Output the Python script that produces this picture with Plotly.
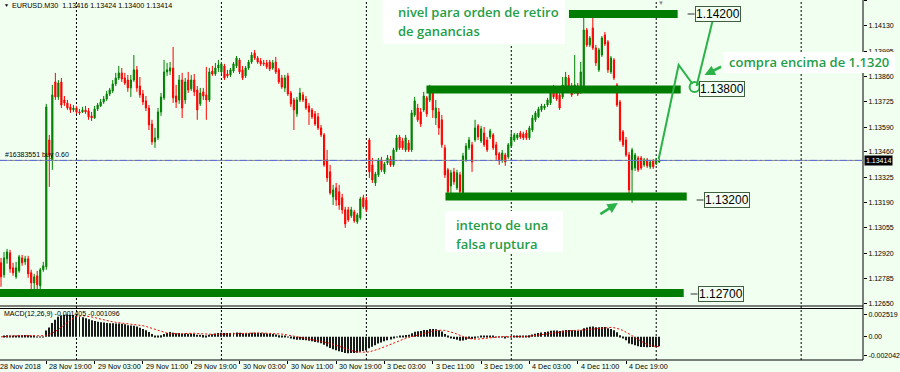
import plotly.graph_objects as go
import pandas as pd

# ---------------- data (EURUSD M30) ----------------
opens = [
    1.12869, 1.12805, 1.12890, 1.12922, 1.12842, 1.12794, 1.12826, 1.12895, 1.12874, 1.12890,
    1.12816, 1.12762, 1.12800, 1.12746, 1.12832, 1.12848, 1.13523, 1.13417, 1.13832, 1.13752,
    1.13832, 1.13736, 1.13720, 1.13699, 1.13683, 1.13693, 1.13672, 1.13672, 1.13683, 1.13677,
    1.13651, 1.13640, 1.13688, 1.13704, 1.13725, 1.13741, 1.13768, 1.13784, 1.13821, 1.13853,
    1.13880, 1.13853, 1.13842, 1.13800, 1.13842, 1.13896, 1.13810, 1.13768, 1.13731, 1.13693,
    1.13608, 1.13513, 1.13534, 1.13672, 1.13747, 1.13885, 1.13890, 1.13906, 1.13757, 1.13736,
    1.13842, 1.13736, 1.13842, 1.13795, 1.13842, 1.13789, 1.13715, 1.13779, 1.13763, 1.13736,
    1.13890, 1.13874, 1.13906, 1.13885, 1.13917, 1.13874, 1.13869, 1.13890, 1.13917, 1.13949,
    1.13896, 1.13864, 1.13906, 1.13938, 1.13986, 1.13959, 1.13943, 1.13933, 1.13933, 1.13938,
    1.13906, 1.13938, 1.13896, 1.13853, 1.13800, 1.13864, 1.13773, 1.13736, 1.13662, 1.13736,
    1.13763, 1.13741, 1.13704, 1.13683, 1.13662, 1.13646, 1.13587, 1.13550, 1.13417, 1.13353,
    1.13220, 1.13268, 1.13247, 1.13215, 1.13151, 1.13151, 1.13119, 1.13140, 1.13087, 1.13108,
    1.13215, 1.13204, 1.13523, 1.13390, 1.13294, 1.13337, 1.13417, 1.13353, 1.13401, 1.13422,
    1.13390, 1.13470, 1.13539, 1.13518, 1.13470, 1.13507, 1.13470, 1.13656, 1.13693, 1.13672,
    1.13683, 1.13747, 1.13736, 1.13789, 1.13640, 1.13672, 1.13630, 1.13481, 1.13364, 1.13278,
    1.13353, 1.13268, 1.13337, 1.13241, 1.13417, 1.13481, 1.13497, 1.13523, 1.13598, 1.13518,
    1.13560, 1.13523, 1.13539, 1.13550, 1.13497, 1.13449, 1.13417, 1.13443, 1.13433, 1.13491,
    1.13523, 1.13534, 1.13560, 1.13555, 1.13560, 1.13534, 1.13576, 1.13630, 1.13646, 1.13683,
    1.13693, 1.13709, 1.13720, 1.13800, 1.13773, 1.13763, 1.13752, 1.13810, 1.13853, 1.13810,
    1.13779, 1.13810, 1.13779, 1.13789, 1.14108, 1.14029, 1.14119, 1.14013, 1.13896, 1.13975,
    1.14082, 1.14045, 1.13885, 1.13949, 1.13816, 1.13725, 1.13566, 1.13523, 1.13443, 1.13364,
    1.13374, 1.13427, 1.13427, 1.13390, 1.13417, 1.13380, 1.13411, 1.13396, 1.13406,
]
highs = [
    1.12895, 1.12927, 1.12943, 1.12938, 1.12869, 1.12874, 1.12911, 1.12911, 1.12906, 1.12906,
    1.12832, 1.12810, 1.12826, 1.12842, 1.12874, 1.13715, 1.13550, 1.13816, 1.13880, 1.13842,
    1.13853, 1.13757, 1.13736, 1.13715, 1.13709, 1.13704, 1.13688, 1.13699, 1.13704, 1.13693,
    1.13672, 1.13704, 1.13720, 1.13741, 1.13757, 1.13784, 1.13800, 1.13842, 1.13880, 1.13917,
    1.13906, 1.13880, 1.13869, 1.13869, 1.13975, 1.13917, 1.13858, 1.13789, 1.13757, 1.13709,
    1.13630, 1.13587, 1.13693, 1.13773, 1.13949, 1.13933, 1.13938, 1.14018, 1.13816, 1.13869,
    1.13880, 1.13853, 1.13885, 1.13869, 1.13874, 1.13810, 1.13800, 1.13800, 1.13912, 1.13906,
    1.13917, 1.13933, 1.13949, 1.13938, 1.13928, 1.13896, 1.13906, 1.13938, 1.13970, 1.13959,
    1.13917, 1.13917, 1.13949, 1.13991, 1.14002, 1.13970, 1.13959, 1.13949, 1.13949, 1.13949,
    1.13949, 1.13965, 1.13906, 1.13869, 1.13869, 1.13880, 1.13784, 1.13747, 1.13752, 1.13800,
    1.13779, 1.13757, 1.13720, 1.13693, 1.13677, 1.13667, 1.13603, 1.13560, 1.13470, 1.13390,
    1.13284, 1.13294, 1.13284, 1.13236, 1.13167, 1.13167, 1.13167, 1.13151, 1.13135, 1.13220,
    1.13231, 1.13220, 1.13534, 1.13427, 1.13353, 1.13427, 1.13433, 1.13406, 1.13443, 1.13438,
    1.13481, 1.13550, 1.13550, 1.13534, 1.13550, 1.13523, 1.13683, 1.13752, 1.13715, 1.13693,
    1.13779, 1.13757, 1.13816, 1.13805, 1.13736, 1.13693, 1.13656, 1.13497, 1.13374, 1.13364,
    1.13374, 1.13364, 1.13353, 1.13454, 1.13507, 1.13539, 1.13513, 1.13630, 1.13608, 1.13598,
    1.13592, 1.13539, 1.13582, 1.13560, 1.13513, 1.13459, 1.13470, 1.13454, 1.13507, 1.13566,
    1.13560, 1.13560, 1.13571, 1.13566, 1.13576, 1.13598, 1.13656, 1.13677, 1.13699, 1.13715,
    1.13715, 1.13747, 1.13810, 1.13816, 1.13789, 1.13779, 1.13858, 1.13885, 1.13869, 1.13826,
    1.13975, 1.13826, 1.13938, 1.14188, 1.14119, 1.14076, 1.14172, 1.14029, 1.14013, 1.14076,
    1.14098, 1.14055, 1.13970, 1.13959, 1.13826, 1.13736, 1.13576, 1.13539, 1.13459, 1.13481,
    1.13454, 1.13438, 1.13438, 1.13427, 1.13427, 1.13417, 1.13422, 1.13427, 1.13438,
]
lows = [
    1.12741, 1.12789, 1.12864, 1.12816, 1.12800, 1.12784, 1.12816, 1.12853, 1.12858, 1.12789,
    1.12725, 1.12688, 1.12725, 1.12715, 1.12821, 1.12832, 1.13273, 1.13364, 1.13736, 1.13736,
    1.13693, 1.13704, 1.13683, 1.13667, 1.13672, 1.13662, 1.13656, 1.13667, 1.13662, 1.13630,
    1.13624, 1.13635, 1.13677, 1.13699, 1.13715, 1.13731, 1.13757, 1.13773, 1.13810, 1.13842,
    1.13832, 1.13816, 1.13779, 1.13752, 1.13832, 1.13779, 1.13747, 1.13709, 1.13677, 1.13576,
    1.13497, 1.13481, 1.13523, 1.13651, 1.13736, 1.13864, 1.13869, 1.13720, 1.13693, 1.13715,
    1.13640, 1.13715, 1.13773, 1.13784, 1.13757, 1.13630, 1.13704, 1.13736, 1.13630, 1.13725,
    1.13864, 1.13864, 1.13885, 1.13874, 1.13842, 1.13853, 1.13858, 1.13880, 1.13906, 1.13874,
    1.13842, 1.13853, 1.13896, 1.13928, 1.13949, 1.13928, 1.13917, 1.13917, 1.13901, 1.13890,
    1.13896, 1.13874, 1.13821, 1.13795, 1.13779, 1.13757, 1.13699, 1.13576, 1.13646, 1.13725,
    1.13725, 1.13683, 1.13603, 1.13635, 1.13598, 1.13576, 1.13539, 1.13380, 1.13300, 1.13231,
    1.13177, 1.13172, 1.13151, 1.13130, 1.13055, 1.13087, 1.13108, 1.13082, 1.13076, 1.13098,
    1.13156, 1.13140, 1.13321, 1.13294, 1.13278, 1.13326, 1.13353, 1.13342, 1.13390, 1.13380,
    1.13380, 1.13459, 1.13470, 1.13470, 1.13459, 1.13459, 1.13459, 1.13646, 1.13619, 1.13592,
    1.13672, 1.13646, 1.13725, 1.13640, 1.13603, 1.13550, 1.13481, 1.13321, 1.13220, 1.13215,
    1.13284, 1.13257, 1.13236, 1.13231, 1.13406, 1.13470, 1.13353, 1.13513, 1.13523, 1.13507,
    1.13486, 1.13459, 1.13528, 1.13470, 1.13417, 1.13390, 1.13401, 1.13385, 1.13422, 1.13481,
    1.13513, 1.13523, 1.13528, 1.13523, 1.13523, 1.13523, 1.13566, 1.13619, 1.13640, 1.13672,
    1.13683, 1.13699, 1.13709, 1.13741, 1.13731, 1.13683, 1.13741, 1.13800, 1.13779, 1.13752,
    1.13768, 1.13757, 1.13768, 1.13779, 1.14018, 1.14018, 1.14002, 1.13917, 1.13885, 1.13965,
    1.14023, 1.13880, 1.13874, 1.13842, 1.13699, 1.13513, 1.13486, 1.13433, 1.13215, 1.13188,
    1.13358, 1.13353, 1.13364, 1.13380, 1.13374, 1.13369, 1.13369, 1.13390, 1.13401,
]
closes = [
    1.12794, 1.12895, 1.12927, 1.12837, 1.12816, 1.12842, 1.12901, 1.12869, 1.12890, 1.12810,
    1.12762, 1.12794, 1.12752, 1.12832, 1.12853, 1.13699, 1.13443, 1.13763, 1.13752, 1.13826,
    1.13709, 1.13720, 1.13693, 1.13683, 1.13693, 1.13672, 1.13667, 1.13683, 1.13672, 1.13646,
    1.13640, 1.13688, 1.13709, 1.13725, 1.13741, 1.13768, 1.13789, 1.13821, 1.13853, 1.13880,
    1.13848, 1.13826, 1.13800, 1.13842, 1.13896, 1.13800, 1.13763, 1.13725, 1.13693, 1.13603,
    1.13513, 1.13534, 1.13672, 1.13752, 1.13885, 1.13896, 1.13906, 1.13747, 1.13725, 1.13842,
    1.13693, 1.13832, 1.13789, 1.13842, 1.13779, 1.13683, 1.13773, 1.13757, 1.13736, 1.13885,
    1.13874, 1.13906, 1.13922, 1.13928, 1.13853, 1.13864, 1.13896, 1.13928, 1.13959, 1.13885,
    1.13853, 1.13906, 1.13938, 1.13975, 1.13959, 1.13938, 1.13928, 1.13928, 1.13912, 1.13901,
    1.13933, 1.13885, 1.13832, 1.13805, 1.13853, 1.13768, 1.13715, 1.13683, 1.13736, 1.13773,
    1.13736, 1.13693, 1.13672, 1.13646, 1.13608, 1.13587, 1.13550, 1.13390, 1.13321, 1.13241,
    1.13257, 1.13204, 1.13177, 1.13151, 1.13076, 1.13098, 1.13151, 1.13092, 1.13124, 1.13209,
    1.13167, 1.13151, 1.13353, 1.13310, 1.13342, 1.13411, 1.13364, 1.13396, 1.13427, 1.13390,
    1.13470, 1.13534, 1.13481, 1.13481, 1.13534, 1.13470, 1.13667, 1.13731, 1.13630, 1.13608,
    1.13757, 1.13662, 1.13800, 1.13683, 1.13693, 1.13587, 1.13497, 1.13337, 1.13247, 1.13348,
    1.13300, 1.13348, 1.13247, 1.13438, 1.13491, 1.13523, 1.13406, 1.13587, 1.13539, 1.13582,
    1.13497, 1.13470, 1.13571, 1.13481, 1.13443, 1.13411, 1.13454, 1.13406, 1.13497, 1.13539,
    1.13550, 1.13550, 1.13539, 1.13534, 1.13534, 1.13587, 1.13640, 1.13667, 1.13688, 1.13704,
    1.13704, 1.13736, 1.13800, 1.13752, 1.13741, 1.13693, 1.13816, 1.13858, 1.13789, 1.13763,
    1.13816, 1.13768, 1.13885, 1.14108, 1.14029, 1.14066, 1.14013, 1.13933, 1.14002, 1.14066,
    1.14034, 1.13896, 1.13959, 1.13853, 1.13709, 1.13523, 1.13497, 1.13443, 1.13257, 1.13470,
    1.13443, 1.13364, 1.13374, 1.13417, 1.13385, 1.13406, 1.13380, 1.13417, 1.13414,
]

time_labels = ["28 Nov 2018", "28 Nov 19:00", "29 Nov 03:00", "29 Nov 11:00", "29 Nov 19:00",
               "30 Nov 03:00", "30 Nov 11:00", "30 Nov 19:00", "3 Dec 03:00", "3 Dec 11:00",
               "3 Dec 19:00", "4 Dec 03:00", "4 Dec 11:00", "4 Dec 19:00"]
time_label_bars = [-1.3, 15, 31, 47, 63, 79, 95, 111, 127, 143, 159, 175, 191, 207]
grid_bars = [25, 73, 121, 169, 217, 265]

price_ticks = [1.14265, 1.14130, 1.13995, 1.13860, 1.13725, 1.13590, 1.13460,
               1.13325, 1.13190, 1.13055, 1.12920, 1.12785, 1.12650]
price_tick_text = ["1.14265", "1.14130", "1.13995", "1.13860", "1.13725", "1.13590", "1.13460",
                   "1.13325", "1.13190", "1.13055", "1.12920", "1.12785", "1.12650"]
macd_ticks = [0.002519, 0.0, -0.002042]
macd_tick_text = ["0.002519", "0.00", "-0.002042"]

level_prices = [1.14193, 1.13791, 1.13222, 1.12708]
level_labels = ["1.14200", "1.13800", "1.13200", "1.12700"]
last_price = 1.13414

# ---------------- derived indicator ----------------
idx = list(range(len(closes)))
s = pd.Series(closes)
macd_main = s.ewm(span=12, adjust=False).mean() - s.ewm(span=26, adjust=False).mean()
macd_signal = macd_main.rolling(9, min_periods=1).mean()

# ---------------- layout helpers ----------------
W, H = 900, 372
PW, PH = 866, 360   # plot area in px
X0, XS = 1.0, 3.03  # pixel of bar 0 and px per bar
XR = [-X0 / XS, (PW - X0) / XS]


def px(x):
    return x / PW


def py(y):
    return 1 - y / PH


BG = "#F0FFF0"
GREEN_BAR = "#007d00"
GREEN_TXT = "#1f9e48"
GREEN_LINE = "#2db24a"
TFONT = dict(family="Liberation Sans, Arial", size=7.2, color="black")

fig = go.Figure()
fig.add_trace(go.Candlestick(
    x=idx, open=opens, high=highs, low=lows, close=closes,
    increasing=dict(line=dict(color="#008000", width=1), fillcolor="#008000"),
    decreasing=dict(line=dict(color="#ff0000", width=1), fillcolor="#ff0000"),
    whiskerwidth=0, xaxis="x", yaxis="y", showlegend=False, hoverinfo="skip"))
fig.add_trace(go.Bar(x=idx, y=macd_main, width=0.33, marker=dict(color="#1a1a1a", line=dict(width=0)),
                     xaxis="x", yaxis="y2", showlegend=False, hoverinfo="skip"))
fig.add_trace(go.Scatter(x=idx, y=macd_signal, mode="lines",
                         line=dict(color="#ff0000", width=1, dash="2px,2px"),
                         xaxis="x", yaxis="y2", showlegend=False, hoverinfo="skip"))

shapes = []
for g in grid_bars:
    shapes.append(dict(type="line", xref="x", yref="paper", x0=g, x1=g, y0=0, y1=1,
                       line=dict(color="black", width=1, dash="2px,2px"), layer="below"))
shapes += [
    dict(type="line", xref="paper", yref="paper", x0=1, x1=1, y0=0, y1=1, line=dict(color="black", width=1)),
    dict(type="line", xref="paper", yref="paper", x0=0, x1=1, y0=py(306), y1=py(306), line=dict(color="black", width=1)),
    dict(type="line", xref="paper", yref="paper", x0=0, x1=1, y0=py(308.5), y1=py(308.5), line=dict(color="black", width=1)),
    dict(type="line", xref="paper", yref="paper", x0=0, x1=1, y0=0, y1=0, line=dict(color="black", width=1)),
]
shapes.append(dict(type="line", xref="paper", yref="y", x0=0, x1=1, y0=last_price, y1=last_price,
                   line=dict(color="#8a8a8a", width=1)))
shapes.append(dict(type="line", xref="paper", yref="y", x0=0, x1=1, y0=last_price, y1=last_price,
                   line=dict(color="#5d6fd8", width=1, dash="7px,3px,2px,3px")))
level_spans = [(188.1, 224.1), (140.9, 225.1), (147.2, 227.1), (-0.4, 226.1)]
for lv, (a, b) in zip(level_prices, level_spans):
    shapes.append(dict(type="line", xref="x", yref="y", x0=a, x1=b, y0=lv, y1=lv,
                       line=dict(color=GREEN_BAR, width=8), layer="above"))
for (xa, xb, yy) in [(690, 697, 14), (699, 706, 200), (693, 700, 294)]:
    shapes.append(dict(type="line", xref="paper", yref="paper", x0=px(xa), x1=px(xb), y0=py(yy), y1=py(yy),
                       line=dict(color="#333333", width=1), layer="above"))
for (x0, x1, y0, y1) in [(384, 567, 0, 44), (447, 565, 211, 252), (726, 898, 52, 73)]:
    shapes.append(dict(type="rect", xref="paper", yref="paper", x0=px(x0), x1=px(x1), y0=py(y1), y1=py(y0),
                       fillcolor="white", line=dict(width=0), layer="above"))
shapes.append(dict(type="path", xref="paper", yref="paper",
                   path=f"M {px(661)} {py(159)} L {px(681)} {py(65)} L {px(695)} {py(84)}",
                   line=dict(color=GREEN_LINE, width=2), layer="above"))
shapes.append(dict(type="path", xref="paper", yref="paper",
                   path=f"M {px(699)} {py(86)} L {px(715)} {py(21)}",
                   line=dict(color=GREEN_LINE, width=2), layer="above"))
shapes.append(dict(type="circle", xref="paper", yref="paper", x0=px(692), x1=px(702), y0=py(92), y1=py(82),
                   line=dict(color=GREEN_LINE, width=2), layer="above"))

ann = []
for t, b in zip(time_labels, time_label_bars):
    ann.append(dict(x=px(X0 + XS * b + 1), y=py(366), xref="paper", yref="paper", text=t, showarrow=False,
                    xanchor="left", yanchor="middle", font=TFONT))
ann.append(dict(x=px(2), y=py(5), xref="paper", yref="paper", text="▼", showarrow=False,
                xanchor="left", yanchor="middle", font=dict(size=5, color="black")))
ann.append(dict(x=px(10), y=py(5.5), xref="paper", yref="paper",
                text="EURUSD.M30  1.13416 1.13424 1.13400 1.13414", showarrow=False,
                xanchor="left", yanchor="middle", font=TFONT))
ann.append(dict(x=px(663), y=py(3), xref="paper", yref="paper", text="▼", showarrow=False,
                xanchor="center", yanchor="middle", font=dict(size=6, color="#8c8c8c")))
ann.append(dict(x=px(3), y=py(154.5), xref="paper", yref="paper", text="#16383551 buy 0.60", showarrow=False,
                xanchor="left", yanchor="middle", font=dict(family="Liberation Sans, Arial", size=7, color="black")))
ann.append(dict(x=px(2), y=py(314), xref="paper", yref="paper", text="MACD(12,26,9) -0.001405 -0.001096",
                showarrow=False, xanchor="left", yanchor="middle",
                font=dict(family="Liberation Sans, Arial", size=7, color="black")))
ann.append(dict(x=1, y=last_price, xref="paper", yref="y", text="1.13414", showarrow=False,
                xanchor="left", yanchor="middle", xshift=1, bgcolor="black", borderpad=1,
                font=dict(family="Liberation Sans, Arial", size=7, color="white")))
label_pos = [(697, 14), (701, 88.5), (706, 200), (700, 294)]
for txt, (lx, ly) in zip(level_labels, label_pos):
    ann.append(dict(x=px(lx), y=py(ly), xref="paper", yref="paper", text=txt, showarrow=False,
                    xanchor="left", yanchor="middle", bgcolor="#F3FFF3", bordercolor="#3f5f3f",
                    borderwidth=1, borderpad=0,
                    font=dict(family="Liberation Sans, Arial", size=12, color="black")))
GFONT = dict(family="Open Sans", size=13, color=GREEN_TXT, weight=600)
for txt, (tx, ty) in [("nivel para orden de retiro", (397, 12)), ("de ganancias", (397, 31)),
                      ("intento de una", (456, 225)), ("falsa ruptura", (456, 244)),
                      ("compra encima de 1.1320", (730, 62))]:
    ann.append(dict(x=px(tx), y=py(ty), xref="paper", yref="paper", text=txt, showarrow=False,
                    xanchor="left", yanchor="middle", font=GFONT))
ann.append(dict(x=px(620), y=py(203), xref="paper", yref="paper", text="", showarrow=True,
                ax=-19, ay=12, arrowhead=2, arrowsize=0.8, arrowwidth=2.6, arrowcolor=GREEN_LINE))
ann.append(dict(x=px(707), y=py(75), xref="paper", yref="paper", text="", showarrow=True,
                ax=18, ay=-9, arrowhead=2, arrowsize=0.8, arrowwidth=2.6, arrowcolor=GREEN_LINE))

fig.update_layout(
    width=W, height=H, margin=dict(l=0, r=W - PW, t=0, b=H - PH),
    paper_bgcolor=BG, plot_bgcolor=BG, showlegend=False, boxgap=0.45,
    xaxis=dict(domain=[0, 1], range=XR, anchor="y2", showgrid=False, zeroline=False,
               showline=False, ticks="outside", ticklen=3, tickcolor="black",
               tickvals=time_label_bars[1:], showticklabels=False,
               rangeslider=dict(visible=False)),
    yaxis=dict(domain=[py(306), 1], range=[1.126389, 1.14268], side="right", anchor="x",
               showgrid=False, zeroline=False, showline=False, ticks="outside", ticklen=3,
               tickcolor="black", tickvals=price_ticks, ticktext=price_tick_text,
               tickfont=dict(family="Liberation Sans, Arial", size=7, color="black")),
    yaxis2=dict(domain=[0, py(308.5)], range=[-0.002598, 0.003186], side="right", anchor="x",
                showgrid=False, zeroline=False, showline=False, ticks="outside", ticklen=3,
                tickcolor="black", tickvals=macd_ticks, ticktext=macd_tick_text,
                tickfont=dict(family="Liberation Sans, Arial", size=7, color="black")),
    shapes=shapes, annotations=ann,
)

fig.write_html("out.html")
